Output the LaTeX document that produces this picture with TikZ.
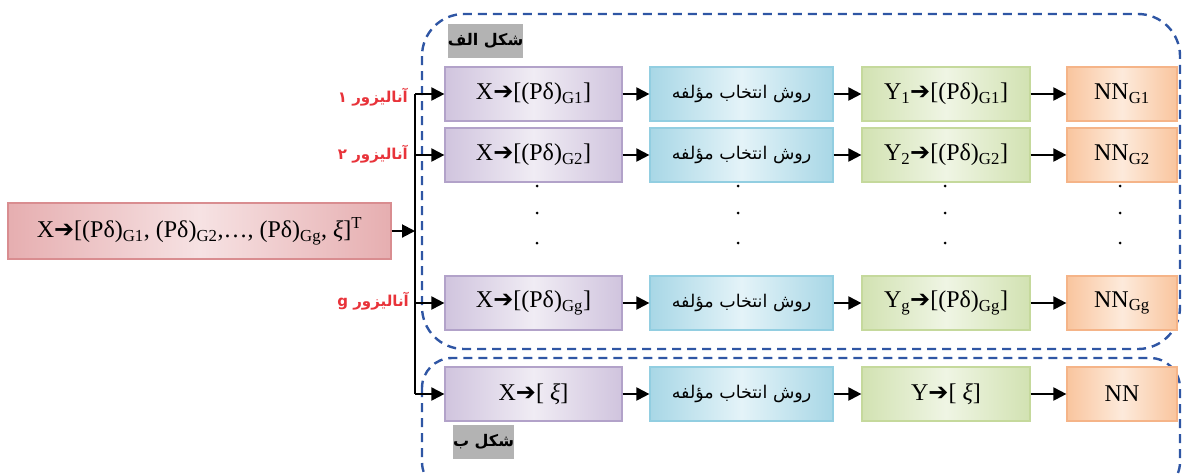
\documentclass[tikz,border=0pt]{standalone}
\usepackage{fontspec}
\setmainfont{Liberation Serif}
\newfontfamily\fa[Script=Arabic]{DejaVu Sans}
\newfontfamily\djf{DejaVu Sans}
\TeXXeTstate=1
\usetikzlibrary{arrows.meta}
\definecolor{purpA}{HTML}{F0ECF4}
\definecolor{purpC}{HTML}{D0C4DE}
\definecolor{purpB}{HTML}{B2A2C9}
\definecolor{bluA}{HTML}{E4F3F8}
\definecolor{bluC}{HTML}{A8D7E6}
\definecolor{bluB}{HTML}{92CEE1}
\definecolor{grnA}{HTML}{EFF5E4}
\definecolor{grnC}{HTML}{D2E2B2}
\definecolor{grnB}{HTML}{C5D99C}
\definecolor{orgA}{HTML}{FDEADB}
\definecolor{orgC}{HTML}{F9C59E}
\definecolor{orgB}{HTML}{F5B488}
\definecolor{pnkA}{HTML}{F6E2E3}
\definecolor{pnkC}{HTML}{E6AEB0}
\definecolor{pnkB}{HTML}{D98D90}
\definecolor{dashblue}{HTML}{2F56A4}
\definecolor{lblred}{HTML}{E8333A}
\definecolor{greylbl}{HTML}{B3B3B3}
\newcommand\myarr{{\djf\bfseries ➔}}
\newcommand\msub[1]{\textsubscript{#1}}
\begin{document}
\begin{tikzpicture}[x=1pt,y=-1pt,
  box/.style={minimum height=54pt, inner sep=0pt, line width=1.2pt, font=\fontsize{24}{28}\selectfont},
  pbox/.style={box, draw=purpB, left color=purpC, right color=purpC, middle color=purpA, minimum width=177pt},
  bbox/.style={box, draw=bluB, left color=bluC, right color=bluC, middle color=bluA, minimum width=183pt},
  gbox/.style={box, draw=grnB, left color=grnC, right color=grnC, middle color=grnA, minimum width=168pt},
  obox/.style={box, draw=orgB, left color=orgC, right color=orgC, middle color=orgA, minimum width=110pt},
  arr/.style={line width=2pt, -{Triangle[length=13pt,width=13pt]}},
  trunk/.style={line width=2pt},
  dashbox/.style={draw=dashblue, line width=2.4pt, dash pattern=on 9pt off 6pt},
  redlbl/.style={text=lblred, anchor=east, inner sep=0pt, font=\fa\bfseries\fontsize{15}{18}\selectfont},
  greylbl/.style={fill=greylbl, inner sep=0pt, minimum height=34pt, font=\fa\bfseries\fontsize{16}{18}\selectfont},
  fatext/.style={font=\fa\fontsize{17.5}{20}\selectfont}
]
\useasboundingbox (0,0) rectangle (1182,475);
\clip (0,0) rectangle (1182,475);

% dashed group frames
\draw[dashbox, rounded corners=42pt] (422,14) rectangle (1180,349);
\draw[dashbox, rounded corners=30pt] (422,358) rectangle (1180,492);

% group labels
\node[greylbl, minimum width=69pt] (la) at (485.5,41) {\beginR شکل الف\endR};
\node[greylbl, minimum width=59pt] (lb) at (483.5,442) {\beginR شکل ب\endR};

% input box
\node[box, draw=pnkB, left color=pnkC, right color=pnkC, middle color=pnkA, minimum width=383pt, minimum height=56pt] (in) at (199.5,231)
  {X\myarr[(Pδ)\msub{G1}, (Pδ)\msub{G2},…, (Pδ)\msub{Gg}, {\itshape ξ}]\textsuperscript{T}};

% rows
\node[pbox] (p1) at (533.5,94) {X\myarr[(Pδ)\msub{G1}]};
\node[bbox] (b1) at (741.5,94) {\fa\fontsize{17.5}{20}\selectfont\beginR روش انتخاب مؤلفه\endR};
\node[gbox] (g1) at (946,94) {Y\msub{1}\myarr[(Pδ)\msub{G1}]};
\node[obox] (o1) at (1122,94) {NN\msub{G1}};

\node[pbox] (p2) at (533.5,155) {X\myarr[(Pδ)\msub{G2}]};
\node[bbox] (b2) at (741.5,155) {\fa\fontsize{17.5}{20}\selectfont\beginR روش انتخاب مؤلفه\endR};
\node[gbox] (g2) at (946,155) {Y\msub{2}\myarr[(Pδ)\msub{G2}]};
\node[obox] (o2) at (1122,155) {NN\msub{G2}};

\node[pbox] (p3) at (533.5,303) {X\myarr[(Pδ)\msub{Gg}]};
\node[bbox] (b3) at (741.5,303) {\fa\fontsize{17.5}{20}\selectfont\beginR روش انتخاب مؤلفه\endR};
\node[gbox] (g3) at (946,303) {Y\msub{g}\myarr[(Pδ)\msub{Gg}]};
\node[obox] (o3) at (1122,303) {NN\msub{Gg}};

\node[pbox] (p4) at (533.5,394) {X\myarr[ {\itshape ξ}]};
\node[bbox] (b4) at (741.5,394) {\fa\fontsize{17.5}{20}\selectfont\beginR روش انتخاب مؤلفه\endR};
\node[gbox] (g4) at (946,394) {Y\myarr[ {\itshape ξ}]};
\node[obox] (o4) at (1122,394) {NN};

% analyzer labels
\node[redlbl] (r1) at (408,97) {\beginR آنالیزور ۱\endR};
\node[redlbl] (r2) at (408,154) {\beginR آنالیزور ۲\endR};
\node[redlbl] (r3) at (409,301) {\beginR آنالیزور g\endR};

% trunk
\coordinate (tin) at (415,231);
\coordinate (t1) at (415,94);
\coordinate (t2) at (415,155);
\coordinate (t3) at (415,303);
\coordinate (t4) at (415,394);
\draw[trunk] (t1) -- (t4);
\draw[arr] (in.east) -- (tin);
\foreach \i in {1,2,3,4} {
  \draw[arr] (t\i) -- (p\i.west);
  \draw[arr] (p\i.east) -- (b\i.west);
  \draw[arr] (b\i.east) -- (g\i.west);
  \draw[arr] (g\i.east) -- (o\i.west);
}

% vertical ellipsis dots
\foreach \x in {537,738,945,1120} {
  \foreach \y in {186,213,243} {
    \fill (\x,\y) circle (1.5pt);
  }
}
\end{tikzpicture}
\end{document}
